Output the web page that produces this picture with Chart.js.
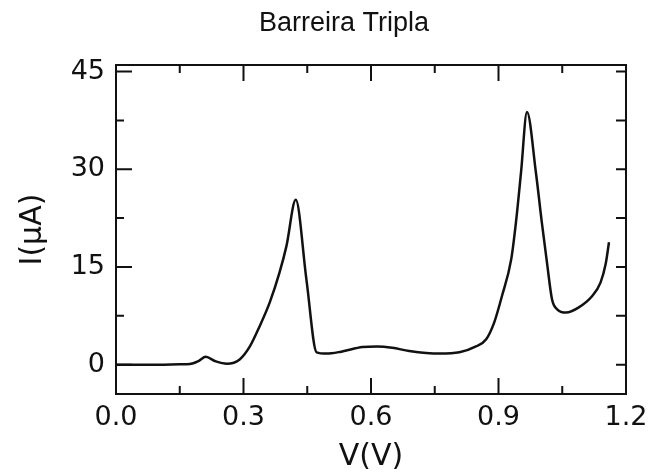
<!DOCTYPE html>
<html>
<head>
<meta charset="utf-8">
<script src="https://cdn.jsdelivr.net/npm/chart.js@4.4.1/dist/chart.umd.min.js"></script>
<style>
  html, body { margin: 0; padding: 0; background: #fff; }
  #wrap { width: 648px; height: 475px; }
</style>
</head>
<body>
<div id="wrap"><canvas id="iv-chart" width="648" height="475"></canvas></div>
<script>
// voltage (V) and current (uA)
const vData = [0, 0.05, 0.10, 0.15, 0.174, 0.195, 0.211, 0.235, 0.261, 0.291, 0.315, 0.338, 0.362, 0.385, 0.401, 0.423, 0.448, 0.472, 0.495, 0.53, 0.58, 0.615, 0.65, 0.69, 0.761, 0.808, 0.847, 0.871, 0.890, 0.908, 0.930, 0.941, 0.953, 0.967, 0.988, 1.002, 1.014, 1.026, 1.038, 1.059, 1.089, 1.120, 1.140, 1.152, 1.160];
const iData = [0, 0, 0, 0.05, 0.1, 0.6, 1.2, 0.5, 0.15, 0.8, 2.8, 5.9, 9.6, 14.2, 18.2, 25.3, 13.1, 1.9, 1.7, 2.0, 2.7, 2.8, 2.6, 2.1, 1.7, 1.9, 2.8, 3.9, 6.5, 10.5, 16.2, 21.8, 29.5, 38.8, 29.5, 21.8, 15.7, 10.0, 8.5, 8.0, 8.8, 10.5, 12.6, 15.4, 18.8];

const xTicks = [0, 0.3, 0.6, 0.9, 1.2];
const xMinor = [0.15, 0.45, 0.75, 1.05];
const yTicks = [0, 15, 30, 45];
const yMinor = [7.5, 22.5, 37.5];
const chartTitle = "Barreira Tripla";

const points = vData.map((v, i) => ({ x: v, y: iData[i] }));

// inward ticks on all four sides, the frame, and the (off-centre) title
const framePlugin = {
  id: "frame",
  afterDatasetsDraw(chart) {
    const { ctx, chartArea: a, scales } = chart;
    const xs = scales.x, ys = scales.y;
    ctx.save();
    ctx.strokeStyle = "#111";
    ctx.lineWidth = 2;
    ctx.strokeRect(a.left, a.top, a.right - a.left, a.bottom - a.top);
    ctx.beginPath();
    const xMark = (v, len) => {
      const px = xs.getPixelForValue(v);
      ctx.moveTo(px, a.bottom); ctx.lineTo(px, a.bottom - len);
      ctx.moveTo(px, a.top); ctx.lineTo(px, a.top + len);
    };
    const yMark = (v, len) => {
      const py = ys.getPixelForValue(v);
      ctx.moveTo(a.left, py); ctx.lineTo(a.left + len, py);
      ctx.moveTo(a.right, py); ctx.lineTo(a.right - 10, py);
    };
    xTicks.forEach((v) => xMark(v, 16));
    xMinor.forEach((v) => xMark(v, 8));
    yTicks.forEach((v) => yMark(v, 16));
    yMinor.forEach((v) => yMark(v, 8));
    ctx.stroke();

    ctx.fillStyle = "#111";
    ctx.font = "27px 'Liberation Sans'";
    ctx.textAlign = "center";
    ctx.textBaseline = "middle";
    ctx.fillText(chartTitle, 344, 24);
    ctx.restore();
  },
};

new Chart(document.getElementById("iv-chart"), {
  type: "line",
  data: {
    datasets: [{
      data: points,
      borderColor: "#111",
      borderWidth: 2.5,
      pointRadius: 0,
      fill: false,
      cubicInterpolationMode: "monotone",
    }],
  },
  options: {
    responsive: false,
    animation: false,
    layout: { padding: { left: 0, right: 22, top: 65, bottom: 0 } },
    plugins: {
      legend: { display: false },
      tooltip: { enabled: false },
      title: { display: false },
    },
    scales: {
      x: {
        type: "linear",
        min: 0,
        max: 1.2,
        grid: { display: false, drawTicks: false },
        border: { display: false },
        afterBuildTicks: (s) => { s.ticks = xTicks.map((v) => ({ value: v })); },
        afterFit: (s) => { s.height = 81; s.paddingLeft = 0; s.paddingRight = 0; },
        ticks: {
          color: "#111",
          padding: 8,
          maxRotation: 0,
          font: { family: "DejaVu Sans", size: 27 },
          callback: (v) => Number(v).toFixed(1),
        },
        title: {
          display: true,
          text: "V(V)",
          color: "#111",
          font: { family: "DejaVu Sans", size: 30 },
          padding: { top: 0, bottom: 0 },
        },
      },
      y: {
        min: -4.5,
        max: 46,
        grid: { display: false, drawTicks: false },
        border: { display: false },
        afterBuildTicks: (s) => { s.ticks = yTicks.map((v) => ({ value: v })); },
        afterFit: (s) => { s.width = 116; s.paddingTop = 0; s.paddingBottom = 0; },
        ticks: {
          color: "#111",
          padding: 11,
          font: { family: "DejaVu Sans", size: 27 },
        },
        title: {
          display: true,
          text: "I(\u03bcA)",
          color: "#111",
          font: { family: "DejaVu Sans", size: 30 },
          padding: { top: 15, bottom: 0 },
        },
      },
    },
  },
  plugins: [framePlugin],
});
</script>
</body>
</html>
